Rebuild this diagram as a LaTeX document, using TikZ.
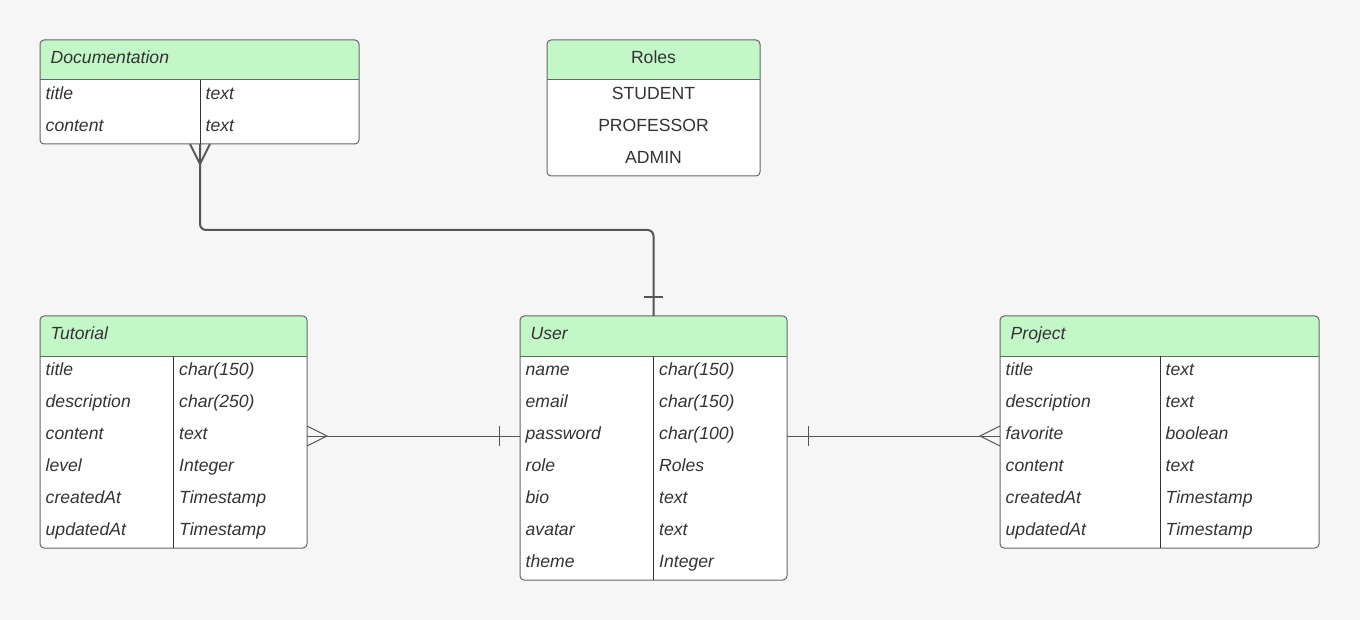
\documentclass[tikz,border=0pt]{standalone}
\usepackage{fontspec}
\setmainfont{Liberation Sans}
\definecolor{bg}{HTML}{F6F6F6}
\definecolor{hdr}{HTML}{C3F7C8}
\definecolor{bord}{HTML}{666666}
\definecolor{txt}{HTML}{333333}
\definecolor{connc}{HTML}{555555}
\newcommand\ERbox[5]{%
  \node[tbl, minimum width=#4pt, minimum height=#5pt] (#1) at (#2,#3) {};
  \begin{scope}
    \clip (#2,#3) rectangle ++(#4,40);
    \fill[hdr, rounded corners=4pt] (#1.north west) rectangle (#1.south east);
  \end{scope}
  \draw[bord, line width=1pt, rounded corners=4pt] (#1.north west) rectangle (#1.south east);
  \draw[bord, line width=1pt] (#2,#3) ++(0,40) -- ++(#4,0);
}
\begin{document}
\begin{tikzpicture}[x=1pt,y=-1pt,
  tbl/.style={draw=none, fill=white, rounded corners=4pt, anchor=north west, inner sep=0pt, outer sep=0pt},
  ft/.style={font=\fontsize{17.6}{20}\selectfont\itshape, text=txt, anchor=base west, inner sep=0pt},
  fr/.style={font=\fontsize{17.6}{20}\selectfont, text=txt, anchor=base, inner sep=0pt},
  divl/.style={draw=txt, line width=0.9pt},
  conna/.style={draw=connc, line width=2pt},
  connb/.style={draw=connc, line width=1pt}
]
\fill[bg] (0,0) rectangle (1360,620);
\useasboundingbox (0,0) rectangle (1360,620);

% Documentation
\ERbox{doc}{40}{40}{319}{104}
\draw[divl] (200,80) -- (200,144);
\node[ft, name=docH] at (50.5,64) {Documentation};
\foreach \a/\b [count=\i] in {title/text, content/text} {
  \node[ft, name=docA\i] at (45.5,{80+32*\i-12.3}) {\a};
  \node[ft, name=docB\i] at (205.5,{80+32*\i-12.3}) {\b};
}

% Roles
\ERbox{roles}{547}{40}{213}{136}
\node[fr, name=rolesH] at (653.5,64) {Roles};
\foreach \a [count=\i] in {STUDENT, PROFESSOR, ADMIN} {
  \node[fr, name=rolesA\i] at (653.5,{80+32*\i-12.3}) {\a};
}

% Tutorial
\ERbox{tut}{40}{316}{267}{232}
\draw[divl] (173,356) -- (173,548);
\node[ft, name=tutH] at (50.5,340) {Tutorial};
\foreach \a/\b [count=\i] in {title/char(150), description/char(250), content/text, level/Integer, createdAt/Timestamp, updatedAt/Timestamp} {
  \node[ft, name=tutA\i] at (45.5,{356+32*\i-12.3}) {\a};
  \node[ft, name=tutB\i] at (179,{356+32*\i-12.3}) {\b};
}

% User
\ERbox{user}{520}{316}{267}{264}
\draw[divl] (653,356) -- (653,580);
\node[ft, name=userH] at (530.5,340) {User};
\foreach \a/\b [count=\i] in {name/char(150), email/char(150), password/char(100), role/Roles, bio/text, avatar/text, theme/Integer} {
  \node[ft, name=userA\i] at (525.5,{356+32*\i-12.3}) {\a};
  \node[ft, name=userB\i] at (659,{356+32*\i-12.3}) {\b};
}

% Project
\ERbox{proj}{1000}{316}{319}{232}
\draw[divl] (1160,356) -- (1160,548);
\node[ft, name=projH] at (1010.5,340) {Project};
\foreach \a/\b [count=\i] in {title/text, description/text, favorite/boolean, content/text, createdAt/Timestamp, updatedAt/Timestamp} {
  \node[ft, name=projA\i] at (1005.5,{356+32*\i-12.3}) {\a};
  \node[ft, name=projB\i] at (1165.5,{356+32*\i-12.3}) {\b};
}

% Documentation -- User
\draw[conna, rounded corners=6pt] ([xshift=160pt]doc.south west) -- ++(0,86) -| (user.north);
\draw[conna] (doc.south west) ++(150,0) -- ++(10,20) -- ++(10,-20);
\draw[conna] (user.north) ++(-9.5,-19) -- ++(19,0);

% Tutorial -- User, User -- Project
\path (tut.north east) ++(0,120) coordinate (tutR);
\path (user.north west) ++(0,120) coordinate (userL);
\path (user.north east) ++(0,120) coordinate (userR);
\path (proj.north west) ++(0,120) coordinate (projL);
\draw[connb] (tutR) -- (userL);
\draw[connb] (tutR) ++(0,-10) -- ++(20,10) -- ++(-20,10);
\draw[connb] (userL) ++(-21,-10) -- ++(0,20);
\draw[connb] (userR) -- (projL);
\draw[connb] (userR) ++(21,-10) -- ++(0,20);
\draw[connb] (projL) ++(0,-10) -- ++(-20,10) -- ++(20,10);
\end{tikzpicture}
\end{document}
